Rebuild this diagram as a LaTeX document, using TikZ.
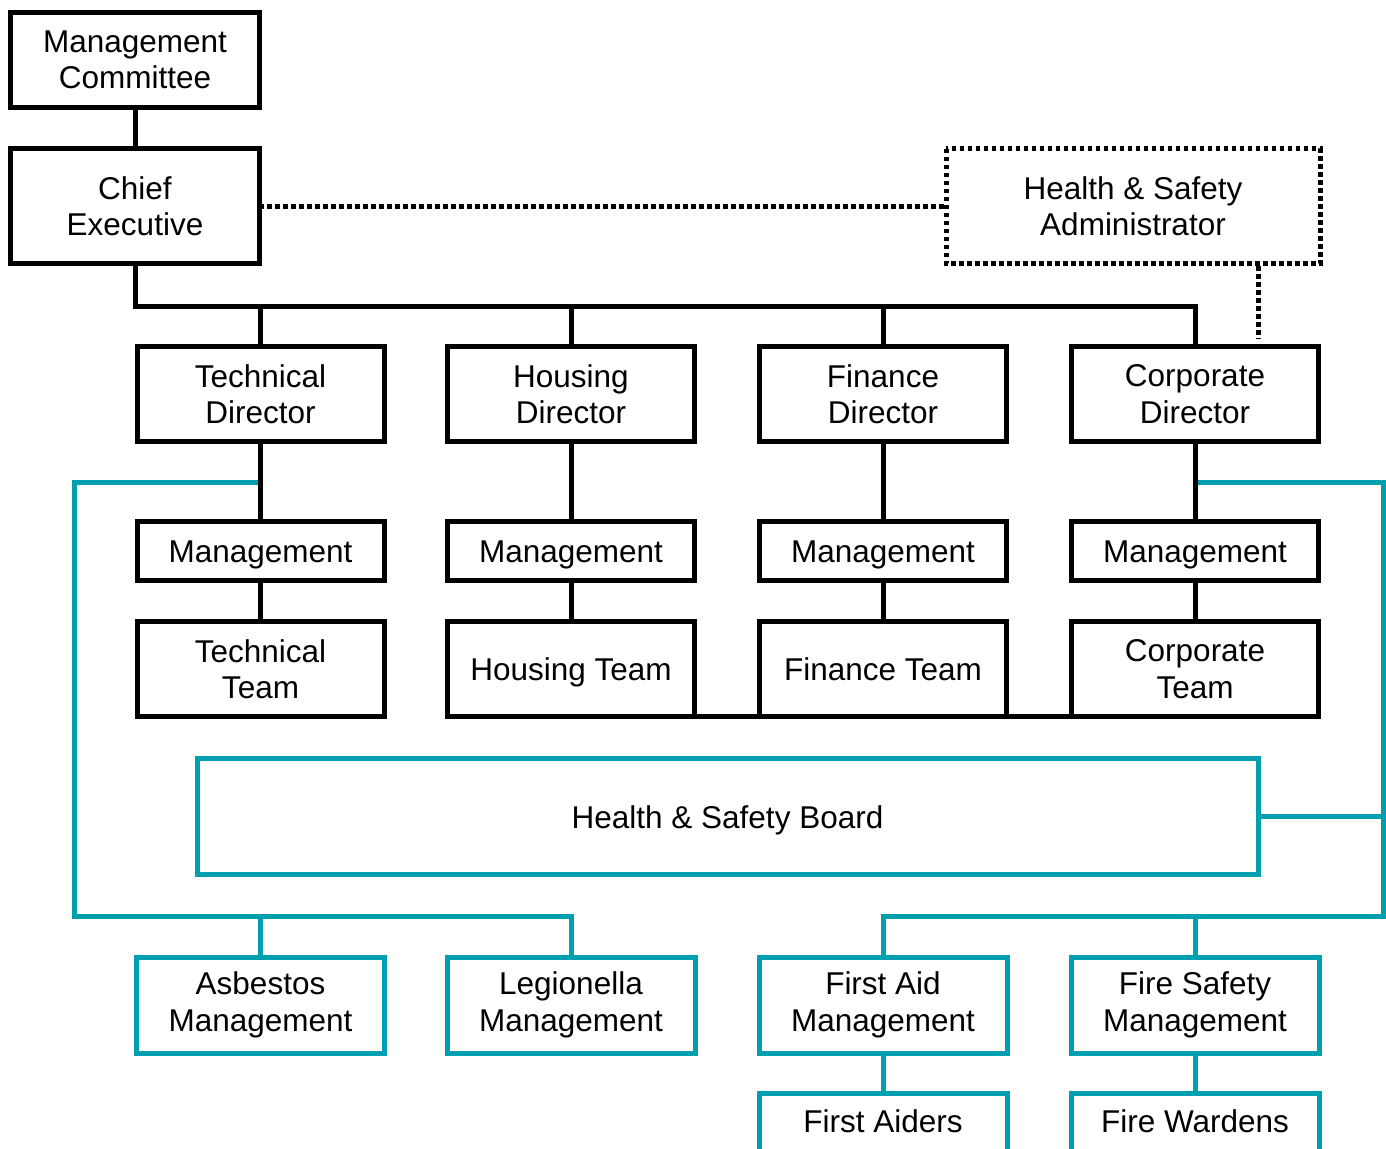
\documentclass[tikz,border=0pt]{standalone}
\usepackage{fontspec}
\setmainfont{Liberation Sans}
\usetikzlibrary{calc}
\definecolor{hsteal}{RGB}{0,159,176}
\begin{document}
\begin{tikzpicture}[x=1pt,y=-1pt,
  box/.style={draw=black,line width=5pt,rectangle,inner sep=0pt,outer sep=0pt,align=center,
    font=\fontsize{31.5}{36.5}\selectfont,fill=white},
  tbox/.style={box,draw=hsteal},
  one/.style={text height=23pt,text depth=0pt},
  wire/.style={line width=5pt,black},
  twire/.style={line width=5pt,hsteal},
  dotwire/.style={line width=5pt,black,dash pattern=on 4.5pt off 3.5pt},
  lbl/.style={font=\fontsize{31.5}{36.5}\selectfont,inner sep=0pt}
]
\useasboundingbox (0,0) rectangle (1386,1148);
\clip (0,0) rectangle (1386,1148);

% corner points of the teal health & safety wiring
\coordinate (tl) at (258,482);
\coordinate (tr) at (1197,482);
\coordinate (lb) at (74,916);
\coordinate (rb) at (1383,916);

% top level
\node[box,minimum width=248.5pt,minimum height=95pt] (mc) at (135,60) {Management\\Committee};
\node[box,minimum width=248.5pt,minimum height=115pt] (ce) at (135,206) {Chief\\Executive};
\node[box,minimum width=374pt,minimum height=115pt,draw=none] (hsa) at (1133,206) {Health \& Safety\\Administrator};
\draw[dotwire] (hsa.north west) rectangle (hsa.south east);

% directors
\node[box,minimum width=247pt,minimum height=95pt] (tdir) at (260.5,394) {Technical\\Director};
\node[box,minimum width=247pt,minimum height=95pt] (hdir) at (571,394) {Housing\\Director};
\node[box,minimum width=247pt,minimum height=95pt] (fdir) at (883,394) {Finance\\Director};
\node[box,minimum width=247pt,minimum height=95pt] (cdir) at (1195,394) {Corporate\\Director};

% management
\node[box,one,minimum width=247pt,minimum height=59pt] (tman) at (260.5,551) {Management};
\node[box,one,minimum width=247pt,minimum height=59pt] (hman) at (571,551) {Management};
\node[box,one,minimum width=247pt,minimum height=59pt] (fman) at (883,551) {Management};
\node[box,one,minimum width=247pt,minimum height=59pt] (cman) at (1195,551) {Management};

% teams
\node[box,minimum width=247pt,minimum height=95pt] (tteam) at (260.5,669) {Technical\\Team};
\node[box,one,minimum width=247pt,minimum height=95pt] (hteam) at (571,669) {Housing Team};
\node[box,one,minimum width=247pt,minimum height=95pt] (fteam) at (883,669) {Finance Team};
\node[box,minimum width=247pt,minimum height=95pt] (cteam) at (1195,669) {Corporate\\Team};

% health & safety board and its groups
\node[tbox,one,minimum width=1061pt,minimum height=116pt] (board) at (727.5,816.5) {Health \& Safety Board};
\node[tbox,minimum width=248pt,minimum height=96pt] (asb) at (260.5,1005) {Asbestos\\Management};
\node[tbox,minimum width=248pt,minimum height=96pt] (leg) at (571,1005) {Legionella\\Management};
\node[tbox,minimum width=248pt,minimum height=96pt] (fa) at (883,1005) {First Aid\\Management};
\node[tbox,minimum width=248pt,minimum height=96pt] (fs) at (1195,1005) {Fire Safety\\Management};
\node[tbox,anchor=north,minimum width=248pt,minimum height=100pt] (aid) at (883,1093) {};
\node[tbox,anchor=north,minimum width=248pt,minimum height=100pt] (war) at (1195,1093) {};
\node[lbl,anchor=base] (aidtxt) at ($(aid.north)+(0,39)$) {First Aiders};
\node[lbl,anchor=base] (wartxt) at ($(war.north)+(0,39)$) {Fire Wardens};

% teal connectors
\draw[twire] (tl) -| (lb) -| (leg.north);
\draw[twire] (asb.north) -- (asb.north |- lb);
\draw[twire] (tr) -| (rb) -| (fa.north);
\draw[twire] (fs.north) -- (fs.north |- rb);
\draw[twire] (board.east) -- (board.east -| rb);
\draw[twire] (fa.south) -- (aid.north);
\draw[twire] (fs.south) -- (war.north);

% black reporting lines
\coordinate (bus) at (135,306);
\draw[wire] (mc.south) -- (ce.north);
\draw[wire] (ce.south) |- (cdir.north |- bus) -- (cdir.north);
\foreach \d in {tdir,hdir,fdir} \draw[wire] (\d.north) -- (\d.north |- bus);
\foreach \a/\b in {tdir/tman,hdir/hman,fdir/fman,cdir/cman,tman/tteam,hman/hteam,fman/fteam,cman/cteam}
  \draw[wire] (\a.south) -- (\b.north);
\draw[wire] (hteam.south east) -- (fteam.south west);
\draw[wire] (fteam.south east) -- (cteam.south west);

% dotted links to the administrator
\draw[dotwire] (ce.east) -- (hsa.west);
\draw[dotwire,shorten <=2.5pt,shorten >=8pt] (hsa.south -| board.east) -- (cdir.north -| board.east);
\end{tikzpicture}
\end{document}
